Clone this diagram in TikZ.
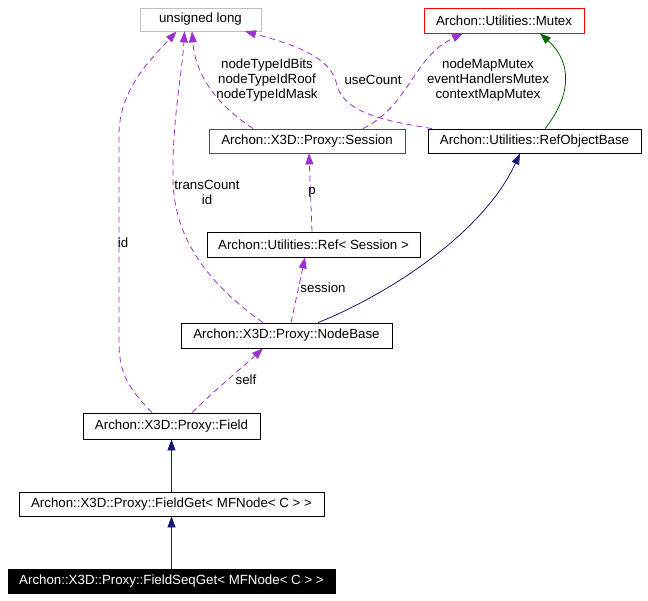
\documentclass[tikz,border=0pt]{standalone}
\usepackage{fontspec}
\setmainfont{Liberation Sans}
\usetikzlibrary{arrows.meta}
\definecolor{edgepurple}{HTML}{9A32CD}
\definecolor{edgenavy}{HTML}{191970}
\definecolor{edgegreen}{HTML}{006400}
\definecolor{boxgray}{HTML}{BFBFBF}
\begin{document}
\begin{tikzpicture}[x=1pt,y=-1pt,
  font=\fontsize{13.3}{15}\selectfont,
  cls/.style={draw=black,line width=0.8pt,inner sep=0pt,align=center},
  usage/.style={edgepurple,line width=0.8pt,dash pattern=on 6pt off 4pt,-{Triangle[length=11pt,width=8pt]}},
  inherit/.style={edgenavy,line width=0.8pt,-{Triangle[length=11pt,width=8pt]}},
  tmpl/.style={edgegreen,line width=0.8pt,-{Triangle[length=11pt,width=8pt]}},
  lbl/.style={align=center,inner sep=0pt}]
\useasboundingbox (0,0) rectangle (648,600);
% nodes
\node[cls,draw=boxgray,minimum width=121pt,minimum height=23pt] (ulong) at (200.5,19.5) {unsigned long};
\node[cls,draw=red,minimum width=160pt,minimum height=25pt] (mutex) at (504,20.5) {Archon::Utilities::Mutex};
\node[cls,draw=red,minimum width=196pt,minimum height=24pt] (session) at (307,141) {Archon::X3D::Proxy::Session};
\node[cls,minimum width=213pt,minimum height=24pt] (refobj) at (534.5,141) {Archon::Utilities::RefObjectBase};
\node[cls,minimum width=213pt,minimum height=25pt] (ref) at (313.5,244.5) {Archon::Utilities::Ref{\textless} Session {\textgreater}};
\node[cls,minimum width=211pt,minimum height=25pt] (nodebase) at (286.5,335.5) {Archon::X3D::Proxy::NodeBase};
\node[cls,minimum width=177pt,minimum height=26pt] (field) at (171.5,426) {Archon::X3D::Proxy::Field};
\node[cls,minimum width=305pt,minimum height=24pt] (fieldget) at (171.5,504) {Archon::X3D::Proxy::FieldGet{\textless} MFNode{\textless} C {\textgreater} {\textgreater}};
\node[cls,fill=black,text=white,minimum width=327pt,minimum height=24pt] (fieldseq) at (171.5,581) {Archon::X3D::Proxy::FieldSeqGet{\textless} MFNode{\textless} C {\textgreater} {\textgreater}};
% edges
\draw[usage] ([xshift=-54pt]session.north) .. controls (225,110) and (196,82) .. ([xshift=-8.5pt]ulong.south);
\draw[usage] ([xshift=-23.5pt]nodebase.north) .. controls (210,285) and (174,240) .. (173,180) .. controls (172,120) and (182,75) .. ([xshift=-16pt]ulong.south);
\draw[usage] ([xshift=-19.5pt]field.north) .. controls (125,385) and (119,370) .. (119,340) -- (119,135) .. controls (119,90) and (150,60) .. ([xshift=-24pt]ulong.south);
\draw[usage] ([xshift=-102.5pt]refobj.north) .. controls (380,120) and (342,112) .. (336,82) .. controls (330,55) and (285,42) .. ([xshift=44.5pt]ulong.south);
\draw[usage] ([xshift=56pt]session.north) .. controls (410,105) and (412,58) .. ([xshift=-41pt]mutex.south);
\draw[tmpl] ([xshift=10.5pt]refobj.north) .. controls (572,95) and (572,62) .. ([xshift=36pt]mutex.south);
\draw[usage] ([xshift=-1.5pt]ref.north) -- ([xshift=2pt]session.south);
\draw[inherit] ([xshift=31.5pt]nodebase.north) .. controls (375,300) and (480,240) .. ([xshift=-14.5pt]refobj.south);
\draw[usage] ([xshift=4.5pt]nodebase.north) -- ([xshift=-8.5pt]ref.south);
\draw[usage] ([xshift=20.5pt]field.north) .. controls (215,390) and (245,365) .. ([xshift=-23.5pt]nodebase.south);
\draw[inherit] (fieldget.north) -- (field.south);
\draw[inherit] (fieldseq.north) -- (fieldget.south);
% labels
\node[lbl] (l1) at (267,80) {nodeTypeIdBits\\nodeTypeIdRoof\\nodeTypeIdMask};
\node[lbl] (l2) at (373,80) {useCount};
\node[lbl] (l3) at (488,80) {nodeMapMutex\\eventHandlersMutex\\contextMapMutex};
\node[lbl] (l4) at (312,192) {p};
\node[lbl] (l5) at (207,192) {transCount\\id};
\node[lbl] (l6) at (123,243) {id};
\node[lbl] (l7) at (323,288) {session};
\node[lbl] (l8) at (246,380) {self};
\end{tikzpicture}
\end{document}
